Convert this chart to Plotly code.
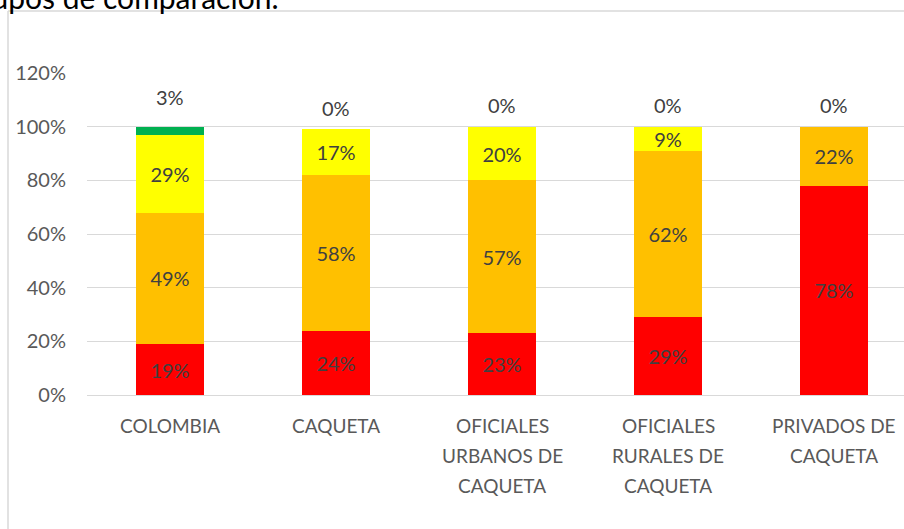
import plotly.graph_objects as go

# data (percentages)
categories = ["COLOMBIA", "CAQUETA", "OFICIALES\nURBANOS DE\nCAQUETA",
              "OFICIALES\nRURALES DE\nCAQUETA", "PRIVADOS DE\nCAQUETA"]
rojo = [19, 24, 23, 29, 78]
naranja = [49, 58, 57, 62, 22]
amarillo = [29, 17, 20, 9, 0]
verde = [3, 0, 0, 0, 0]
y_ticks = [0, 20, 40, 60, 80, 100, 120]
titulo = "grupos de comparación."

W, H = 904, 529
L, R, T, B = 87, 0, 73, 134
pw, ph = W - L - R, H - T - B


def px_x(p):
    return (p - L) / pw


def px_y(p):
    return (H - B - p) / ph


x = list(range(len(categories)))
series = [(rojo, "#FF0000"), (naranja, "#FFC000"), (amarillo, "#FFFF00"), (verde, "#00B050")]

fig = go.Figure()
for i, (vals, col) in enumerate(series):
    is_top = i == len(series) - 1
    fig.add_trace(go.Bar(
        x=x, y=vals,
        marker=dict(color=col, line=dict(width=0)),
        text=None if is_top else [f"{v}%" if v > 0 else "" for v in vals],
        textposition="inside",
        insidetextanchor="middle",
        constraintext="none",
        textfont=dict(family="Lato", size=20, color="#404040"),
        showlegend=False,
        hoverinfo="skip",
    ))

annotations = []
# green series labels sit above each stack
for i in x:
    total = rojo[i] + naranja[i] + amarillo[i] + verde[i]
    annotations.append(dict(
        x=i, y=total + verde[i] + 8, xref="x", yref="y",
        text=f"{verde[i]}%", showarrow=False, yanchor="middle",
        font=dict(family="Lato", size=20, color="#404040"),
    ))

# category labels, one line at a time (Excel-like line spacing)
for i, cat in enumerate(categories):
    for j, line in enumerate(cat.split("\n")):
        annotations.append(dict(
            x=i, y=0, xref="x", yref="paper",
            text=line, showarrow=False, yanchor="middle",
            yshift=-30 - 30 * j,
            font=dict(family="Lato", size=19, color="#595959"),
        ))

# clipped title at the top of the frame
annotations.append(dict(
    x=px_x(280), y=px_y(-3), xref="paper", yref="paper",
    text=titulo, showarrow=False, xanchor="right", yanchor="middle",
    font=dict(family="Lato", size=30, color="#000000"),
))

shapes = [
    dict(type="line", xref="paper", yref="paper",
         x0=px_x(8), x1=px_x(8), y0=px_y(11), y1=px_y(540),
         line=dict(color="#D9D9D9", width=1.5)),
    dict(type="line", xref="paper", yref="paper",
         x0=px_x(8), x1=px_x(920), y0=px_y(11), y1=px_y(11),
         line=dict(color="#D9D9D9", width=1.5)),
]

fig.update_layout(
    width=W, height=H,
    margin=dict(l=L, r=R, t=T, b=B),
    barmode="stack",
    bargap=0.596,
    plot_bgcolor="white",
    paper_bgcolor="white",
    annotations=annotations,
    shapes=shapes,
    xaxis=dict(range=[-0.5, -0.5 + pw / 166], showticklabels=False,
               showgrid=False, zeroline=False, showline=False),
    yaxis=dict(range=[0, 120], tickvals=y_ticks,
               ticktext=[f"{v}%" for v in y_ticks],
               showgrid=True, gridcolor="#D9D9D9", gridwidth=1,
               zeroline=True, zerolinecolor="#D9D9D9", zerolinewidth=1,
               showline=False, ticks="", ticklabelstandoff=20,
               tickfont=dict(family="Lato", size=20, color="#595959")),
)

# drop the browser's default body margin so the figure sits at (0, 0)
fig.write_html("out.html", config={"displayModeBar": False},
               post_script="document.body.style.margin='0';")
